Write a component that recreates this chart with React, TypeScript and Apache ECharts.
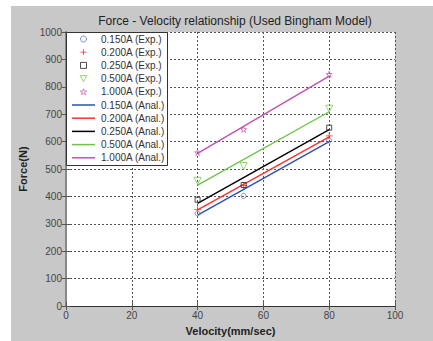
import React, { useEffect, useRef } from "react";
import * as echarts from "echarts";

const titleText = "Force - Velocity relationship (Used Bingham Model)";
const xName = "Velocity(mm/sec)";
const yName = "Force(N)";

const expVelocity = [40, 54, 80];
const exp150 = [338, 402, 604];
const exp200 = [352, 440, 621];
const exp250 = [388, 442, 651];
const exp500 = [457, 511, 720];
const exp1000 = [560, 645, 846];

const analVelocity = [40, 80];
const anal150 = [332, 600];
const anal200 = [351, 617];
const anal250 = [375, 644];
const anal500 = [441, 709];
const anal1000 = [557, 839];

const expNames = [
  "0.150A (Exp.)",
  "0.200A (Exp.)",
  "0.250A (Exp.)",
  "0.500A (Exp.)",
  "1.000A (Exp.)",
];
const analNames = [
  "0.150A (Anal.)",
  "0.200A (Anal.)",
  "0.250A (Anal.)",
  "0.500A (Anal.)",
  "1.000A (Anal.)",
];

const markerColors = ["#5a72cc", "#ff3030", "#222222", "#7acc50", "#c660b8"];
const lineColors = ["#2c50b0", "#ff3030", "#000000", "#6cc448", "#c450b4"];

const symbols = [
  "circle",
  "path://M1,0 L1,2 M0,1 L2,1",
  "path://M0,0 L1,0 L1,1 L0,1 Z",
  "path://M0,0 L2,0 L1,1.8 Z",
  "path://M0,-1 L0.2245,-0.309 L0.951,-0.309 L0.363,0.118 L0.588,0.809 L0,0.382 L-0.588,0.809 L-0.363,0.118 L-0.951,-0.309 L-0.2245,-0.309 Z",
];
const symbolSizes = [5, 7, 5, 7, 6];
const lineIcon = "path://M0,0 L46,0 L46,3 L0,3 Z";

const expData = [exp150, exp200, exp250, exp500, exp1000];
const analData = [anal150, anal200, anal250, anal500, anal1000];

export default function App() {
  const ref = useRef<HTMLDivElement>(null);
  useEffect(() => {
    if (!ref.current) return;
    const chart = echarts.init(ref.current, undefined, { renderer: "svg" });
    const font = "Arial, 'Liberation Sans', sans-serif";
    const series: any[] = [];
    expData.forEach((vals, i) => {
      series.push({
        name: expNames[i],
        type: "scatter",
        data: vals.map((v, j) => [expVelocity[j], v]),
        symbol: symbols[i],
        symbolSize: symbolSizes[i],
        itemStyle: { color: "rgba(255,255,255,0)", borderColor: markerColors[i], borderWidth: 1 },
        z: 3,
      });
    });
    analData.forEach((vals, i) => {
      series.push({
        name: analNames[i],
        type: "line",
        data: vals.map((v, j) => [analVelocity[j], v]),
        symbol: "none",
        lineStyle: { color: lineColors[i], width: 1.4 },
        itemStyle: { color: lineColors[i] },
        z: 2,
      });
    });
    const legendData = [
      ...expNames.map((n, i) => ({
        name: n,
        icon: symbols[i],
        itemStyle: {
          color: "rgba(255,255,255,0)",
          borderColor: markerColors[i],
          borderWidth: 1,
        },
      })),
      ...analNames.map((n, i) => ({
        name: n,
        icon: lineIcon,
        itemStyle: { color: lineColors[i], borderWidth: 0 },
      })),
    ];
    chart.setOption({
      animation: false,
      backgroundColor: "#ffffff",
      graphic: [
        {
          type: "rect",
          shape: { x: 11, y: 6, width: 422, height: 335 },
          style: { fill: "#c8c8c8" },
          z: -10,
          silent: true,
        },
        {
          type: "rect",
          shape: { x: 66, y: 32, width: 329, height: 275 },
          style: { fill: "#ffffff" },
          z: -9,
          silent: true,
        },
        {
          type: "rect",
          shape: { x: 66.5, y: 32.5, width: 101, height: 133 },
          style: { fill: "#ffffff", stroke: "#333", lineWidth: 1 },
          z: 9,
          silent: true,
        },
      ],
      title: {
        text: titleText,
        left: 230,
        textAlign: "center",
        top: 10,
        textStyle: { fontFamily: font, fontSize: 12, fontWeight: "normal", color: "#222" },
      },
      legend: {
        orient: "vertical",
        left: 66,
        top: 34,
        padding: [0, 0, 0, 6],
        itemGap: 3.2,
        itemWidth: 23,
        itemHeight: 6,
        textStyle: {
          fontFamily: font,
          fontSize: 10,
          lineHeight: 10,
          color: "#333",
          padding: [0, 0, 0, 1],
        },
        data: legendData,
        selectedMode: false,
        z: 10,
      },
      grid: { left: 66, top: 32, right: 38, bottom: 34 },
      xAxis: [
        {
          type: "value",
          min: 0,
          max: 100,
          interval: 20,
          name: xName,
          nameLocation: "middle",
          nameGap: 15,
          nameTextStyle: { fontFamily: font, fontSize: 11, fontWeight: "bold", color: "#222" },
          axisLine: { show: true, lineStyle: { color: "#555", width: 1 } },
          axisTick: { show: true, inside: true, length: 4, lineStyle: { color: "#555" } },
          axisLabel: { fontFamily: font, fontSize: 10, color: "#444", margin: 4 },
          splitLine: { show: true, lineStyle: { color: "#555", type: [2, 2], width: 1 } },
        },
        {
          type: "value",
          position: "top",
          min: 0,
          max: 100,
          interval: 20,
          axisLine: { show: true, lineStyle: { color: "#333", width: 1 } },
          axisTick: { show: true, inside: true, length: 4, lineStyle: { color: "#555" } },
          axisLabel: { show: false },
          splitLine: { show: false },
        },
      ],
      yAxis: [
        {
          type: "value",
          min: 0,
          max: 1000,
          interval: 100,
          name: yName,
          nameLocation: "middle",
          nameGap: 27,
          nameTextStyle: { fontFamily: font, fontSize: 11, fontWeight: "bold", color: "#222" },
          axisLine: { show: true, lineStyle: { color: "#444", width: 1 } },
          axisTick: { show: true, inside: true, length: 4, lineStyle: { color: "#555" } },
          axisLabel: {
            fontFamily: font,
            fontSize: 10,
            color: "#444",
            margin: 4,
            formatter: (v: number) => String(v),
          },
          splitLine: { show: true, lineStyle: { color: "#555", type: [2, 2], width: 1 } },
        },
        {
          type: "value",
          position: "right",
          min: 0,
          max: 1000,
          interval: 100,
          axisLine: { show: true, lineStyle: { color: "#888", width: 2 } },
          axisTick: { show: true, inside: true, length: 4, lineStyle: { color: "#555" } },
          axisLabel: { show: false },
          splitLine: { show: false },
        },
      ],
      series,
    });
    return () => chart.dispose();
  }, []);
  return <div ref={ref} style={{ width: 433, height: 341, position: "absolute", left: 0, top: 0 }} />;
}
